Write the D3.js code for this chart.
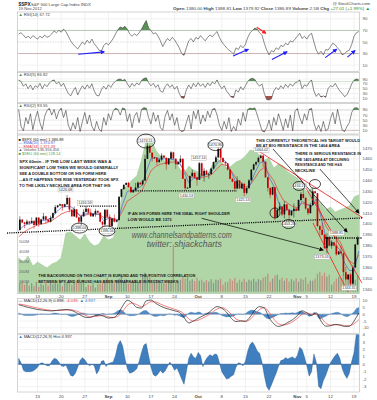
<!DOCTYPE html>
<html><head><meta charset="utf-8">
<script src="https://cdn.jsdelivr.net/npm/d3@7/dist/d3.min.js"></script>
<style>
html,body{margin:0;padding:0;background:#fff;}
svg{display:block;}
text{font-family:"Liberation Sans",Arial,sans-serif;}
</style></head><body>
<svg id="chart" width="377" height="400"></svg>
<script>
// ---------- DATA ----------
const tickDays = [4,9,14,19,23,28,33,38,43,48,53,59,61,66,71];
const tickLabels = ["13","20","27","Sep","10","17","24","Oct","8","15","22","Nov","5","12","19"];

// RSI(14), RSI(5), RSI(2) sampled twice a day (Aug 7 .. Nov 19 close)
const rsi14 = [64,66,62,57,60,56,61,58,55,60, 57,62,58,60,64,69,66,70,67,72,
 68,60,52,46,42,38,44,50,46,53, 48,55,47,42,36,34,44,48,45,50,
 56,64,71,76,74,77,72,64,60,64, 61,66,72,80,87,74,70,64,66,60,
 52,42,50,56,52,58,54,47,40,30, 27,40,52,56,50,58,55,61,56,52,
 58,62,59,64,68,58,50,45,40,36, 33,29,40,37,44,40,46,58,66,70,
 74,72,66,62,48,36,28,35,33,40, 37,44,42,48,45,52,50,55,60,65,
 56,60,55,62,65,50,36,29,34,28, 37,36,42,48,45,40,35,28,30,34,
 36,46,60,66,68];
const rsi5 = [85,80,60,70,50,65,45,62,55,72, 50,68,58,74,82,86,70,78,60,72,
 50,30,20,40,55,24,45,62,48,66, 52,70,40,22,20,45,60,48,66,55,
 72,80,88,90,84,88,70,55,72,60, 74,66,84,92,95,75,62,72,55,66,
 40,35,58,70,55,66,48,60,30,12, 10,45,65,50,72,58,75,60,70,55,
 74,62,78,70,86,65,50,62,40,28, 15,13,45,35,58,45,62,80,90,93,
 88,72,60,70,30,5,3,8,40,55, 45,62,50,68,55,70,60,74,78,86,
 50,66,60,76,86,40,18,30,15,20, 14,50,62,58,72,55,40,30,17,25,
 45,70,85,90,87];
const rsi2 = [92,25,8,60,35,75,12,55,85,40, 12,65,88,96,70,92,55,85,97,60,
 88,30,8,40,15,60,5,45,80,35, 70,25,8,45,15,5,60,30,75,50,
 85,97,92,70,98,94,45,75,20,65, 80,40,92,99,97,60,35,80,45,70,
 20,10,65,88,50,75,30,60,12,5, 8,40,70,15,85,55,90,35,70,45,
 85,60,92,96,70,30,10,45,15,60, 5,25,8,55,30,80,45,92,97,95,
 98,70,40,8,3,20,50,10,60,30, 75,45,10,55,20,70,8,85,95,60,
 35,75,50,92,96,40,10,30,5,45, 8,15,55,80,35,92,50,10,5,25,
 40,80,97,99,94];

// S&P 500 per trading day (Aug 7 .. Nov 19 2012)
const prevClose = 1394.23;
const dayMid = [1404,1400,1401,1399,1400,1407,1402,1410,1417,1416,
 1424,1407,1406,1407,1414,1407,1412,1402,1413,1398,
 1402,1425,1436,1434,1431,1438,1440,1472,1461,1457,
 1463,1455,1466,1455,1460,1433,1444,1443,1456,1449,
 1446,1457,1469,1457,1450,1439,1440,1437,1433,1450,
 1457,1463,1443,1427,1406,1416,1418,1408,1414,1422,
 1424,1410,1430,1398,1390,1388,1383,1372,1373,1349,
 1345,1381];
const dayClose = [1401.35,1402.22,1402.80,1405.87,1404.11,1403.93,1405.53,1415.51,1418.16,1418.13,
 1413.17,1413.49,1402.08,1411.13,1410.44,1409.30,1410.49,1399.48,1406.58,1404.94,
 1403.44,1432.12,1437.92,1429.08,1433.56,1436.56,1459.99,1465.77,1461.19,1459.32,
 1461.05,1460.26,1460.15,1456.89,1441.59,1433.32,1447.15,1440.67,1444.49,1445.75,
 1450.99,1461.40,1460.93,1455.88,1441.48,1432.56,1432.84,1428.59,1440.13,1454.92,
 1460.91,1457.34,1433.19,1433.82,1413.11,1408.75,1412.97,1411.94,1412.16,1427.59,
 1414.20,1417.26,1428.39,1394.53,1377.51,1379.85,1380.03,1374.53,1355.49,1353.33,
 1359.88,1386.89];
const dayHigh = [1407.1,1404.1,1406.0,1406.0,1405.9,1410.0,1407.7,1417.4,1418.7,1418.1,
 1426.7,1416.1,1413.5,1413.5,1416.6,1414.0,1414.0,1410.1,1413.8,1408.8,
 1408.8,1432.1,1437.9,1438.7,1437.8,1439.2,1463.8,1474.5,1465.6,1460.7,
 1465.2,1461.2,1467.1,1460.4,1463.2,1441.6,1450.0,1447.0,1457.1,1451.5,
 1451.7,1463.1,1471.0,1460.9,1455.9,1442.5,1443.9,1438.4,1441.3,1455.5,
 1462.1,1464.0,1457.3,1434.3,1433.8,1420.0,1421.0,1414.0,1418.8,1429.4,
 1434.3,1419.5,1433.4,1428.3,1401.2,1391.4,1384.9,1388.8,1380.1,1360.6,
 1362.0,1389.0];
const dayLow = [1394.5,1396.1,1398.8,1395.6,1397.3,1400.6,1401.8,1404.2,1414.7,1412.1,
 1410.9,1406.8,1400.1,1398.0,1409.4,1406.6,1406.6,1397.0,1398.0,1396.6,
 1401.3,1403.9,1431.5,1429.0,1429.1,1433.0,1435.3,1460.1,1457.6,1454.5,
 1457.9,1450.0,1459.5,1450.5,1441.6,1430.5,1433.3,1435.2,1440.9,1439.0,
 1441.6,1451.1,1456.9,1453.1,1441.2,1430.6,1432.3,1425.5,1427.2,1440.2,
 1453.6,1452.6,1429.9,1423.7,1403.3,1407.1,1405.1,1402.2,1406.0,1413.5,
 1412.9,1408.1,1417.1,1388.1,1377.5,1373.0,1377.2,1370.8,1352.5,1348.1,
 1343.4,1359.9];
// volume (millions) per half day bar
const volM = [90,110,70,95,60,85,55,100,
 50,80,65,95,60,90,75,110,80,120,
 55,85,95,120,70,100,90,130,85,110,
 45,70,60,85,40,75,80,105,95,140,
 90,120,85,110,130,170,100,125,
 80,110,95,120,85,115,150,190,160,175,
 90,120,85,110,95,115,80,105,100,470,
 85,110,120,145,130,150,110,125,105,140,
 110,120,95,115,100,125,90,120,115,130,
 70,95,100,130,110,135,90,120,100,130,
 95,120,110,130,100,125,115,140,150,180,
 100,130,160,170,120,140,110,135,100,125,
 110,135,100,130,120,145,
 80,110,110,130,180,200,160,190,150,170,
 70,100,130,150,140,175,150,165,190,210,
 120,160];
const ema20 = [1394,1398,1400,1401,1402,1403,1404,1406,1411,1415,
 1416,1416,1413,1407,1409,1410,1409,1409,1403,1405,
 1404,1403,1418,1430,1431,1432,1435,1448,1460,1461,
 1460,1460,1460,1459,1457,1448,1438,1442,1442,1445,
 1446,1449,1456,1460,1457,1448,1438,1434,1431,1436,
 1447,1456,1458,1443,1435,1420,1412,1413,1412,1413,
 1421,1418,1416,1423,1406,1388,1384,1381,1376,1364,
 1357,1357,1374.9];
const ema34 = [1388,1392,1395,1397,1399,1400,1401,1403,1406,1409,
 1411,1412,1411,1408,1408,1409,1409,1409,1406,1406,
 1405,1404,1412,1421,1424,1427,1430,1439,1449,1453,
 1455,1456,1457,1457,1456,1450,1443,1443,1442,1443,
 1444,1446,1451,1455,1454,1449,1442,1438,1434,1436,
 1442,1449,1452,1446,1440,1430,1422,1419,1416,1415,
 1419,1418,1417,1420,1410,1398,1392,1388,1384,1374,
 1366,1363,1371.4];
// $XEU (EURUSD x100) background
const xeu = [123.78,123.5,123.91,123.22,123.5,123.29,123.09,123.36,123.5,123.78,
 125.5,125.57,125.29,125.02,125.43,124.88,124.6,124.74,125.29,125.02,
 125.16,126.05,128.6,128.74,129.16,129.43,130.53,131.91,132.05,131.22,
 130.81,130.4,130.67,130.53,129.98,129.57,130.12,129.84,129.71,129.43,
 129.57,130.19,130.67,130.33,129.98,130.12,130.4,130.53,130.81,131.22,
 131.15,130.88,130.53,130.67,129.98,130.26,130.12,129.71,129.5,129.29,
 128.74,128.33,128.6,127.78,127.5,127.09,127.29,126.95,127.09,127.22,
 127.36,127.98,128.14];
const macdLine = [7,6,5,4.2,3.4,3,2.6,2.4,2.8,3.2,
 3.4,3,1.5,-0.5,-2.2,-2.5,-1.2,-0.5,-1.5,-2.8,
 -2.5,0,6,10.2,8.5,5,4.5,9.8,10.4,8,
 6,4.5,3.5,2.5,1.5,-2.5,-6.4,-5,-3,-1.2,
 0.5,3.5,5.6,4.5,1.5,-3,-5.4,-5,-5.2,-2,
 3,5.6,4.5,-2.5,-7,-9,-8,-6,-4,-1,
 2.5,1,-1,1,-5,-8.8,-8.5,-7.5,-8,-9,
 -8.8,-5,0.9];
const signalLine = [7.5,7,6.2,5.3,4.5,3.8,3.2,2.8,2.7,2.8,
 3.1,3.2,2.6,1.2,-0.6,-1.8,-1.8,-1.2,-1,-2,
 -2.5,-1.5,2,6.5,8.2,7,5.5,7.2,9.2,9,
 7.5,6,4.8,3.6,2.5,0.2,-3.5,-5,-4.4,-2.8,
 -1,1.5,3.8,4.8,3.2,0,-3.5,-4.8,-5.2,-3.8,
 0,3.5,4.8,1.5,-3.5,-7,-8,-7.2,-5.5,-3,
 0,1,0,0,-2.5,-6.5,-8,-7.8,-7.8,-8.4,
 -8.6,-7,-4];
const macdHist = [0.8,0.2,-0.8,-1.0,-1.0,-1.0,-0.9,-0.7,-0.4,0.1,
 0.2,0.0,-0.2,-0.2,0.4,0.8,0.7,0.3,-0.2,-0.3,
 -0.1,-0.8,-1.5,-1.6,-1.2,-0.4,0.5,0.9,0.6,0.1,
 -0.2,0.0,-0.2,-1.3,-0.8,0.4,0.5,-0.3,0.1,0.2,
 0.3,1.2,2.6,3.2,2.5,0.8,-0.6,-1.2,-1.1,-0.9,
 -0.6,0.4,1.6,2.6,2.8,1.2,-0.4,-1.4,-1.6,-1.3,
 -0.8,-1.2,-0.9,-0.3,0.3,-0.2,-0.8,-0.5,-1.2,-2.0,
 -2.7,-1.0,0.8,1.5,1.0,0.8,1.6,1.2,-0.3,0.5,
 1.0,1.3,1.1,1.4,1.3,0.2,-1.0,-1.5,-2.0,-1.9,
 -1.6,-1.4,-0.4,0.2,0.1,-0.2,0.4,1.8,2.7,3.0,
 2.5,1.8,1.5,0.3,-1.5,-3.0,-3.5,-2.8,-2.0,-1.2,
 -0.3,0.5,0.6,0.9,0.7,0.9,1.0,0.7,1.2,2.3,
 2.0,1.0,-0.2,-1.6,-1.0,1.4,0.3,-3.0,-3.3,-2.2,
 -1.5,-0.6,0.2,0.7,1.2,1.5,0.8,-0.6,-1.4,-1.9,
 -1.2,0.4,1.6,4.2,5.0];

// axis tick values
const rsiTicks = [90,70,50,30,10];
const priceTicks = [1340,1350,1360,1370,1380,1390,1400,1410,1420,1430,1440,1450,1460,1470];
const volTicks = [100,200,300,400,500];
const macdTicks = [10,5,0,-5,-10];
const histTicks = [4,3,2,1,0,-1,-2,-3];

// annotations, in (trading day, value) coordinates
const rsiArrows = [
  {a:[12.6,29], b:[18.1,33], c:"#1f1fff"},
  {a:[45.4,26], b:[48.6,37.5], c:"#1f1fff"},
  {a:[53.6,20], b:[56.8,33], c:"#1f1fff"},
  {a:[64.9,23], b:[67.3,37.5], c:"#1f1fff"},
  {a:[69.6,24], b:[71.2,35], c:"#1f1fff"},
  {a:[50.4,75.5], b:[52.3,65], c:"#ff2020"}
];
const dottedLines = [
  {a:[-2.47,1391.6], b:[72.68,1405.5]},
  {a:[23.78,1430.4], b:[46.22,1430.4]},
  {a:[12.98,1416.5], b:[20.81,1416.5]},
  {a:[64.89,1387.0], b:[72.68,1387.0]}
];
const blackArrows = [
  {a:[53.84,1469.1], b:[69.51,1392.6]},
  {a:[63.77,1450.6], b:[72.03,1410.1]},
  {a:[38.74,1405.2], b:[64.43,1376.0]}
];
const redLines = [
  {a:[51.08,1466.3], b:[72.89,1405.5]},
  {a:[59.55,1442.3], b:[72.68,1345.5]},
  {a:[62.30,1400.9], b:[69.71,1337.2]}
];
const ellipses = [
  {c:[26.95,1476.4], rx:9, ry:7}, {c:[41.66,1472.7], rx:7.5, ry:5.5},
  {c:[59.34,1435.0], rx:6, ry:4.5}, {c:[62.73,1436.8], rx:5.5, ry:4.5},
  {c:[12.88,1396.2], rx:8, ry:5}, {c:[18.70,1393.5], rx:8, ry:5},
  {c:[54.26,1410.1], rx:5, ry:5}, {c:[57.12,1399.9], rx:6.5, ry:4.5}
];
const priceTags = [
  {c:[26.95,1476.9], t:"1474.51"}, {c:[41.66,1472.8], t:"1470.96"},
  {c:[38.17,1460.8], t:"1457.14"}, {c:[51.4,1468.2], t:"1464.02"},
  {c:[35.53,1426.2], t:"1430.53"}, {c:[47.49,1422.1], t:"1425.53"},
  {c:[9.91,1431.7], t:"1426.68"}, {c:[14.04,1419.3], t:"1416.59"},
  {c:[12.88,1396.2], t:"1398.04"}, {c:[18.70,1393.5], t:"1396.56"},
  {c:[57.12,1399.9], t:"1403.28"}, {c:[64.21,1369.5], t:"1373.03"},
  {c:[67.28,1391.6], t:"1388.81"}, {c:[69.93,1340.9], t:"1343.35"},
  {c:[59.34,1435.0], t:"1434.27"}
];

// ---------- DRAW ----------
const svg = d3.select("#chart");
const defs = svg.append("defs");
const X0 = 17.5, X1 = 359.5;
const x = d3.scaleLinear().domain([-0.25, 72.15]).range([X0, X1]);
const tOf = (i, n) => i * 72 / (n - 1);

const P = {
  r14: {top: 12, bottom: 71.5, y: d3.scaleLinear().domain([0,100]).range([71,13])},
  r5: {top: 72.5, bottom: 102.5, y: d3.scaleLinear().domain([0,100]).range([100.7,76.6])},
  r2: {top: 103.5, bottom: 134, y: d3.scaleLinear().domain([0,100]).range([132.8,107.4])},
  main: {top: 135, bottom: 293.5, y: d3.scaleLinear().domain([1340,1470]).range([289,148])},
  macd: {top: 298.5, bottom: 333.5, y: d3.scaleLinear().domain([-10,10]).range([327.8,300.6])},
  hist: {top: 334.5, bottom: 392, y: d3.scaleLinear().domain([-3,4]).range([386.5,334.7])}
};
const yV = d3.scaleLinear().domain([0,500]).range([291.7,241.7]);
const yE = d3.scaleLinear().domain([121.43,132.26]).range([292,135]);

function marker(id, color){
  defs.append("marker").attr("id", id).attr("viewBox","0 0 10 10").attr("refX",8).attr("refY",5)
    .attr("markerUnits","userSpaceOnUse").attr("markerWidth",4.5).attr("markerHeight",4.5).attr("orient","auto")
    .append("path").attr("d","M0,0L10,5L0,10z").attr("fill", color);
}
marker("mBlue","#1f1fff"); marker("mRed","#ff2020"); marker("mBlack","#000");

// panel frames, grid, clip
Object.entries(P).forEach(([k,p])=>{
  svg.append("rect").attr("x",X0).attr("y",p.top).attr("width",X1-X0).attr("height",p.bottom-p.top)
    .attr("fill","#fff").attr("stroke","#a8a8a8").attr("stroke-width",0.5);
  defs.append("clipPath").attr("id","clip-"+k).append("rect")
    .attr("x",X0).attr("y",p.top).attr("width",X1-X0).attr("height",p.bottom-p.top);
  const g = svg.append("g").attr("clip-path",`url(#clip-${k})`);
  tickDays.forEach(d=>g.append("line").attr("x1",x(d)).attr("x2",x(d)).attr("y1",p.top).attr("y2",p.bottom)
    .attr("stroke","#e2e2e2").attr("stroke-width",0.5));
});
function hgrid(k, vals, special){
  const p = P[k];
  vals.forEach(v=>{
    const sp = special && special[v];
    svg.append("line").attr("x1",X0).attr("x2",X1).attr("y1",p.y(v)).attr("y2",p.y(v))
      .attr("stroke", sp ? sp.c : "#e4e4e4").attr("stroke-width", sp ? sp.w : 0.5)
      .attr("stroke-dasharray", sp && sp.d ? sp.d : null);
  });
}
function rightLabels(k, vals){
  const p = P[k];
  vals.forEach(v=>svg.append("text").attr("x",362.5).attr("y",p.y(v)+1.5).attr("font-size",4.3)
    .attr("fill","#555").text(v));
}

// RSI panels
function rsiPanel(k, data, hi, lo, label){
  const p = P[k];
  hgrid(k, rsiTicks, {[hi]:{c:"#b0b0b0",w:0.5},[lo]:{c:"#b0b0b0",w:0.5},50:{c:"#bbb",w:0.5,d:"1.5,1"}});
  defs.append("clipPath").attr("id",k+"hi").append("rect").attr("x",X0).attr("y",p.top).attr("width",X1-X0).attr("height",p.y(hi)-p.top);
  defs.append("clipPath").attr("id",k+"lo").append("rect").attr("x",X0).attr("y",p.y(lo)).attr("width",X1-X0).attr("height",p.bottom-p.y(lo));
  const xi = (d,i)=>x(tOf(i,data.length));
  const g = svg.append("g").attr("clip-path",`url(#clip-${k})`);
  g.append("path").attr("d", d3.area().x(xi).y0(p.y(hi)).y1(d=>p.y(d))(data))
    .attr("fill","#5b9358").attr("clip-path",`url(#${k}hi)`);
  g.append("path").attr("d", d3.area().x(xi).y0(p.y(lo)).y1(d=>p.y(d))(data))
    .attr("fill","#a4514c").attr("clip-path",`url(#${k}lo)`);
  g.append("path").attr("d", d3.line().x(xi).y(d=>p.y(d))(data))
    .attr("fill","none").attr("stroke","#3a3a3a").attr("stroke-width",0.6);
  rightLabels(k, rsiTicks);
  const t = svg.append("text").attr("x",18.5).attr("y",p.top+3.6).attr("font-size",4.2).attr("fill","#444");
  t.append("tspan").attr("fill","#4b8a48").text("▲ ");
  t.append("tspan").text(label);
}
rsiPanel("r14", rsi14, 70, 30, "RSI(14) 67.72");
rsiPanel("r5", rsi5, 80, 20, "RSI(5) 86.82");
rsiPanel("r2", rsi2, 90, 10, "RSI(2) 93.55");

rsiArrows.forEach(a=>{
  svg.append("line").attr("x1",x(a.a[0])).attr("y1",P.r14.y(a.a[1])).attr("x2",x(a.b[0])).attr("y2",P.r14.y(a.b[1]))
    .attr("stroke",a.c).attr("stroke-width",1.1).attr("marker-end", a.c==="#ff2020"?"url(#mRed)":"url(#mBlue)");
});

// MAIN PANEL
hgrid("main", priceTicks);
rightLabels("main", priceTicks);
const gm = svg.append("g").attr("clip-path","url(#clip-main)");
const xd = (d,i)=>x(tOf(i, 73));
gm.append("path").attr("d", d3.area().x(xd).y0(P.main.bottom).y1(d=>yE(d))(xeu))
  .attr("fill","#b0d6a8").attr("stroke","#9cc893").attr("stroke-width",0.5);

// candles (two per day)
const candles = [];
dayClose.forEach((c,k)=>{
  const o = k===0 ? prevClose : dayClose[k-1];
  const m = dayMid[k];
  const A = {t:k, o:o, c:m}, B = {t:k+0.5, o:m, c:c};
  [A,B].forEach(z=>{z.h=Math.max(z.o,z.c)+0.6; z.l=Math.min(z.o,z.c)-0.6;});
  if (Math.max(A.o,A.c) >= Math.max(B.o,B.c)) A.h = dayHigh[k]; else B.h = dayHigh[k];
  if (Math.min(A.o,A.c) <= Math.min(B.o,B.c)) A.l = dayLow[k]; else B.l = dayLow[k];
  candles.push(A,B);
});
// volume
volM.forEach((v,i)=>{
  const cd = candles[i];
  gm.append("rect").attr("x",x(i*0.5)+0.5).attr("width",1.3).attr("y",yV(v)).attr("height",yV(0)-yV(v))
    .attr("fill", cd && cd.c < cd.o ? "#d06060" : "#707070").attr("opacity",0.6);
});
// volume labels
volTicks.forEach(v=>svg.append("text").attr("x",19).attr("y",yV(v)+1.4).attr("font-size",4).attr("fill","#666").text(v+"M"));

// EMAs
gm.append("path").attr("d", d3.line().x(xd).y(d=>P.main.y(d))(ema34)).attr("fill","none").attr("stroke","#e23a3a").attr("stroke-width",0.7);
gm.append("path").attr("d", d3.line().x(xd).y(d=>P.main.y(d))(ema20)).attr("fill","none").attr("stroke","#4a62d6").attr("stroke-width",0.7);

candles.forEach(cd=>{
  const col = cd.c < cd.o ? "#cc0000" : "#111";
  const cx = x(cd.t) + 1.18;
  gm.append("line").attr("x1",cx).attr("x2",cx).attr("y1",P.main.y(cd.h)).attr("y2",P.main.y(cd.l)).attr("stroke",col).attr("stroke-width",0.5);
  const y1 = P.main.y(Math.max(cd.o,cd.c)), y2 = P.main.y(Math.min(cd.o,cd.c));
  gm.append("rect").attr("x",cx-0.85).attr("width",1.7).attr("y",y1).attr("height",Math.max(0.7,y2-y1)).attr("fill",col);
});

// annotations
const pt = a => [x(a[0]), P.main.y(a[1])];
redLines.forEach(l=>{ const A=pt(l.a), B=pt(l.b);
  svg.append("line").attr("x1",A[0]).attr("y1",A[1]).attr("x2",B[0]).attr("y2",B[1]).attr("stroke","#ee1c1c").attr("stroke-width",0.8); });
dottedLines.forEach(l=>{ const A=pt(l.a), B=pt(l.b);
  svg.append("line").attr("x1",A[0]).attr("y1",A[1]).attr("x2",B[0]).attr("y2",B[1]).attr("stroke","#000")
    .attr("stroke-width",1.3).attr("stroke-dasharray","1.1,1.1"); });
blackArrows.forEach(l=>{ const A=pt(l.a), B=pt(l.b);
  svg.append("line").attr("x1",A[0]).attr("y1",A[1]).attr("x2",B[0]).attr("y2",B[1]).attr("stroke","#000")
    .attr("stroke-width",0.7).attr("marker-end","url(#mBlack)"); });
priceTags.forEach(tg=>{ const c=pt(tg.c);
  svg.append("rect").attr("x",c[0]-7.5).attr("y",c[1]-2.4).attr("width",15).attr("height",4.8)
    .attr("fill","#fff").attr("stroke","#999").attr("stroke-width",0.35);
  svg.append("text").attr("x",c[0]).attr("y",c[1]+1.4).attr("text-anchor","middle").attr("font-size",3.7).attr("fill","#333").text(tg.t); });
ellipses.forEach(e=>{ const c=pt(e.c);
  svg.append("ellipse").attr("cx",c[0]).attr("cy",c[1]).attr("rx",e.rx).attr("ry",e.ry)
    .attr("fill","none").attr("stroke","#000").attr("stroke-width",0.7); });

// main legend
const legendMain = [
  {s:"■", t:"$SPX (60 min) 1,386.89", c:"#222", y:140.5},
  {s:"—", t:"EMA(20) 1,374.87", c:"#4a62d6", y:144},
  {s:"—", t:"EMA(34) 1,371.39", c:"#e23a3a", y:147.5},
  {s:"▲", t:"Volume 136,356,456", c:"#555", y:151},
  {s:"■", t:"$XEU (60 min) 128.14", c:"#4f9a4a", y:154.5}
];
legendMain.forEach(l=>svg.append("text").attr("x",18.5).attr("y",l.y).attr("font-size",3.9).attr("fill",l.c).text(l.s+" "+l.t));

// text notes
function note(lines, x0, y0, dy){
  lines.forEach((l,i)=>svg.append("text").attr("x",x0).attr("y",y0+i*dy).attr("font-size",4.4).attr("font-weight","bold")
    .attr("fill","#1a1a1a").attr("textLength",l[1]).attr("lengthAdjust","spacingAndGlyphs").text(l[0]));
}
note([["SPX 60min - IF THE LOW LAST WEEK WAS A",92],["SIGNIFICANT LOW THEN WE WOULD GENERALLY",99],
  ["SEE A DOUBLE BOTTOM OR IHS FORM HERE",87],["...AS IT HAPPENS THE RISE YESTERDAY TOOK SPX",99],
  ["TO THE LIKELY NECKLINE AREA FOR THAT IHS",91]], 19.3, 163.3, 6.0);
note([["THIS CURRENTLY THEORETICAL IHS TARGET WOULD",104],["BE AT BIG RESISTANCE IN THE 1404 AREA",84]], 256, 141.7, 5.6);
note([["THERE IS SERIOUS RESISTANCE IN",66],["THE 1405 AREA AT DECLINING",54],["RESISTANCE AND THE H&S",47],["NECKLINE",20]], 295, 155, 5.6);
note([["IF AN IHS FORMS HERE THE IDEAL RIGHT SHOULDER",102],["LOW WOULD BE 1373",44]], 127.7, 214.8, 6);
note([["THE BACKGROUND ON THIS CHART IS EURUSD AND THE POSITIVE CORRELATION",157],
  ["BETWEEN SPX AND EURUSD HAS BEEN REMARKABLE IN RECENT WEEKS",140]], 38.3, 276.6, 6);
svg.append("text").attr("x",131.7).attr("y",237.5).attr("font-family","'Liberation Serif','DejaVu Serif',serif")
  .attr("font-style","italic").attr("font-size",8.5).attr("fill","#555").attr("textLength",100).attr("lengthAdjust","spacingAndGlyphs")
  .text("www.channelsandpatterns.com");
svg.append("text").attr("x",146.7).attr("y",246.5).attr("font-family","'Liberation Serif','DejaVu Serif',serif")
  .attr("font-style","italic").attr("font-size",8.5).attr("fill","#555").attr("textLength",75).attr("lengthAdjust","spacingAndGlyphs")
  .text("twitter: shjackcharts");

// MACD panel
hgrid("macd", macdTicks);
rightLabels("macd", macdTicks);
const gmacd = svg.append("g").attr("clip-path","url(#clip-macd)");
const xh = (d,i)=>x(tOf(i, macdHist.length));
gmacd.append("path").attr("d", d3.area().x(xh).y0(P.macd.y(0)).y1(d=>P.macd.y(d))(macdHist))
  .attr("fill","#4c8cc9").attr("stroke","#2b5f94").attr("stroke-width",0.3);
gmacd.append("line").attr("x1",X0).attr("x2",X1).attr("y1",P.macd.y(0)).attr("y2",P.macd.y(0)).attr("stroke","#9ab").attr("stroke-width",0.4);
gmacd.append("path").attr("d", d3.line().x(xd).y(d=>P.macd.y(d)).curve(d3.curveMonotoneX)(signalLine)).attr("fill","none").attr("stroke","#f06060").attr("stroke-width",0.8);
gmacd.append("path").attr("d", d3.line().x(xd).y(d=>P.macd.y(d)).curve(d3.curveMonotoneX)(macdLine)).attr("fill","none").attr("stroke","#222").attr("stroke-width",0.7);
{
  const t = svg.append("text").attr("x",18.5).attr("y",P.macd.top+3.6).attr("font-size",4.1).attr("fill","#333");
  t.append("tspan").text("— MACD(12,26,9) 0.898, ");
  t.append("tspan").attr("fill","#e04040").text("-4.039, ");
  t.append("tspan").attr("fill","#3a78b8").text("▲ 4.937");
}

// Histogram panel
hgrid("hist", histTicks);
rightLabels("hist", histTicks);
const gh = svg.append("g").attr("clip-path","url(#clip-hist)");
gh.append("path").attr("d", d3.area().x(xh).y0(P.hist.y(0)).y1(d=>P.hist.y(d))(macdHist))
  .attr("fill","#3f7fbf").attr("stroke","#24558a").attr("stroke-width",0.4);
gh.append("line").attr("x1",X0).attr("x2",X1).attr("y1",P.hist.y(0)).attr("y2",P.hist.y(0)).attr("stroke","#24558a").attr("stroke-width",0.4);
{
  const t = svg.append("text").attr("x",18.5).attr("y",P.hist.top+3.6).attr("font-size",4.1).attr("fill","#333");
  t.append("tspan").attr("fill","#3a78b8").text("▲ ");
  t.append("tspan").text("MACD(12,26,9) Hist 4.937");
}

// date axes
[297.9, 397.6].forEach(yy=>{
  tickDays.forEach((d,i)=>{
    const isMonth = /[A-Za-z]/.test(tickLabels[i]);
    svg.append("text").attr("x",x(d)).attr("y",yy).attr("text-anchor","middle").attr("font-size",4.4)
      .attr("font-weight",isMonth?"bold":"normal").attr("fill","#444").text(tickLabels[i]);
  });
});

// header
svg.append("text").attr("x",18.5).attr("y",5.8).attr("font-size",4.8).attr("font-weight","bold").attr("fill","#222").text("$SPX");
svg.append("text").attr("x",31).attr("y",5.6).attr("font-size",4.2).attr("fill","#444").text("S&P 500 Large Cap Index  INDX");
svg.append("text").attr("x",18.5).attr("y",10.4).attr("font-size",4).attr("fill","#444").text("19-Nov-2012");
svg.append("text").attr("x",370).attr("y",5.4).attr("text-anchor","end").attr("font-size",4.2).attr("fill","#444").text("@ StockCharts.com");
{
  const t = svg.append("text").attr("x",173).attr("y",10.3).attr("font-size",4.1).attr("fill","#444")
    .attr("textLength",197).attr("lengthAdjust","spacingAndGlyphs");
  [["Open ",1],["1380.00  ",0],["High ",1],["1388.81  ",0],["Low ",1],["1379.92  ",0],["Close ",1],["1386.89  ",0],
   ["Volume ",1],["2.5B  ",0],["Chg ",1],["+27.01 (+1.99%) ▲",0]].forEach(s=>
    t.append("tspan").attr("font-weight",s[1]?"bold":"normal").attr("fill",s[0].startsWith("+")?"#2a8a2a":null).text(s[0]));
}
</script></body></html>
